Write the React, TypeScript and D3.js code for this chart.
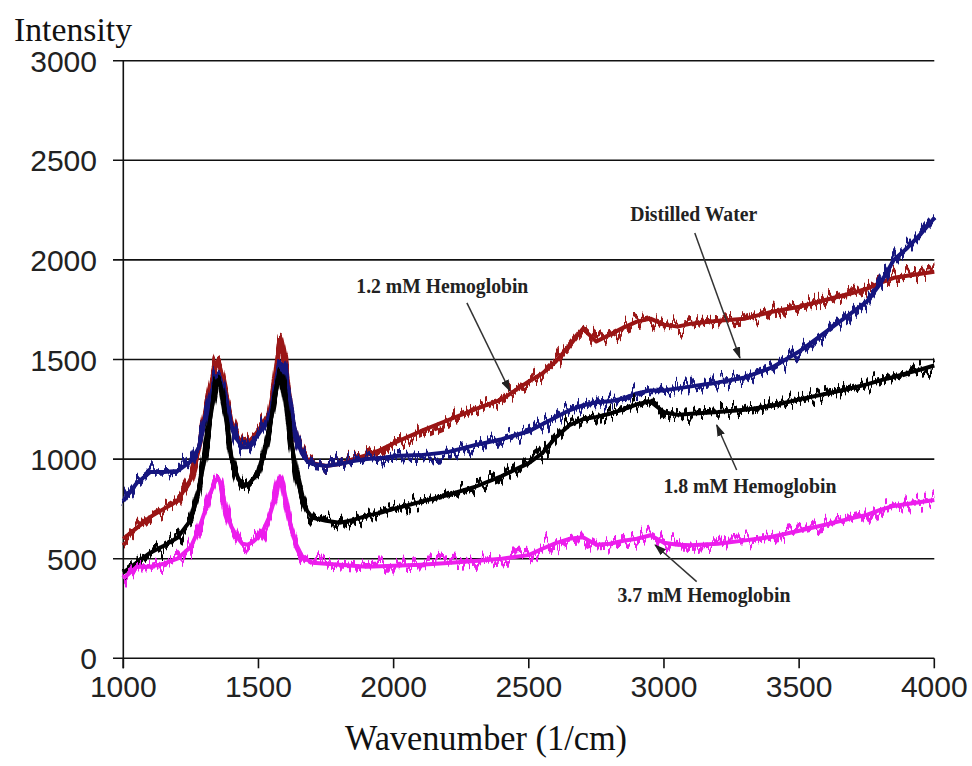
import React from 'react';
import * as d3 from 'd3';

// Raman spectra of hemoglobin solutions vs. distilled water
const wavenumbers = [
  1000, 1050, 1100, 1150, 1200, 1250, 1280, 1300, 1320, 1340, 1350, 1360, 1380, 1400,
  1420, 1440, 1460, 1480, 1500, 1520, 1540, 1560, 1570, 1580, 1590, 1600, 1620, 1640,
  1660, 1680, 1700, 1750, 1800, 1850, 1900, 1950, 2000, 2100, 2200, 2300, 2400, 2500,
  2550, 2600, 2650, 2700, 2750, 2800, 2850, 2900, 2950, 3000, 3050, 3100, 3200, 3300,
  3400, 3500, 3600, 3700, 3750, 3800, 3850, 3900, 3950, 4000,
];

const hemoglobin12 = [
  600, 655, 710, 750, 790, 900, 1050, 1200, 1340, 1460, 1490, 1450, 1320, 1190,
  1120, 1075, 1080, 1110, 1145, 1180, 1230, 1390, 1500, 1600, 1540, 1470, 1240, 1110,
  1040, 1000, 980, 965, 975, 1000, 1020, 1045, 1080, 1140, 1195, 1250, 1300, 1390,
  1430, 1490, 1570, 1655, 1590, 1625, 1660, 1690, 1705, 1675, 1665, 1680, 1695, 1705,
  1740, 1765, 1800, 1835, 1855, 1885, 1910, 1920, 1930, 1940,
];

const distilledWater = [
  790, 880, 935, 935, 940, 990, 1060, 1180, 1300, 1400, 1420, 1400, 1290, 1170,
  1100, 1060, 1060, 1090, 1125, 1165, 1210, 1330, 1420, 1480, 1470, 1420, 1250, 1110,
  1030, 990, 975, 965, 975, 990, 1000, 1005, 1015, 1020, 1035, 1070, 1100, 1140,
  1175, 1210, 1245, 1270, 1285, 1290, 1305, 1330, 1345, 1345, 1355, 1365, 1385, 1410,
  1460, 1540, 1640, 1740, 1790, 1880, 2000, 2060, 2130, 2210,
];

const hemoglobin18 = [
  430, 480, 530, 565, 605, 695, 850, 1000, 1190, 1360, 1395, 1370, 1200, 1010,
  920, 860, 870, 900, 930, 1020, 1150, 1300, 1380, 1430, 1390, 1310, 1100, 930,
  810, 740, 705, 690, 680, 695, 715, 730, 750, 785, 820, 860, 915, 980,
  1030, 1110, 1170, 1200, 1212, 1228, 1250, 1275, 1290, 1235, 1222, 1228, 1236, 1248,
  1268, 1300, 1328, 1358, 1375, 1395, 1412, 1432, 1450, 1470,
];

const hemoglobin37 = [
  400, 460, 460, 475, 500, 560, 650, 730, 820, 890, 905, 880, 740, 660,
  610, 575, 570, 585, 610, 650, 710, 800, 870, 910, 870, 790, 660, 570,
  515, 495, 480, 475, 470, 465, 460, 462, 465, 470, 478, 488, 500, 518,
  550, 578, 600, 608, 570, 575, 590, 600, 618, 580, 570, 568, 575, 592,
  610, 640, 672, 705, 720, 745, 765, 775, 785, 795,
];

const xTickValues = [1000, 1500, 2000, 2500, 3000, 3500, 4000];
const yTickValues = [0, 500, 1000, 1500, 2000, 2500, 3000];

const series = [
  { key: 'hb12', values: hemoglobin12, color: '#9a1414' },
  { key: 'water', values: distilledWater, color: '#15157f' },
  { key: 'hb18', values: hemoglobin18, color: '#000000' },
  { key: 'hb37', values: hemoglobin37, color: '#ec1fec' },
];

// Callouts: label baseline start, arrow tail and arrow tip, in data units
const callouts = [
  { text: '1.2 mM Hemoglobin', label: [1862, 1832], tail: [2271, 1784], tip: [2430, 1342], width: 172 },
  { text: 'Distilled Water', label: [2875, 2195], tail: [3114, 2135], tip: [3281, 1507], width: 127 },
  { text: '1.8 mM Hemoglobin', label: [2998, 831], tail: [3269, 945], tip: [3195, 1171], width: 173 },
  { text: '3.7 mM Hemoglobin', label: [2828, 284], tail: [3121, 385], tip: [2967, 569], width: 173 },
];

const W = 972;
const H = 766;
const plot = { left: 123.3, right: 934.3, top: 60.7, bottom: 658.3 };

export default function App() {
  const x = d3.scaleLinear().domain([1000, 4000]).range([plot.left, plot.right]);
  const y = d3.scaleLinear().domain([0, 3000]).range([plot.bottom, plot.top]);

  const lineGen = d3
    .line<number>()
    .x((_, i) => x(wavenumbers[i]))
    .y((d) => y(d));

  const sans = "'Liberation Sans', Arial, sans-serif";
  const serif = "'Liberation Serif', 'Times New Roman', serif";

  return (
    <svg
      width={W}
      height={H}
      viewBox={`0 0 ${W} ${H}`}
      style={{ position: 'absolute', left: 0, top: 0, background: '#fff' }}
    >
      <defs>
        {/* detector shot-noise texture along each trace */}
        <filter id="spectralNoise" x="-5%" y="-20%" width="110%" height="140%">
          <feTurbulence type="fractalNoise" baseFrequency="0.25 0.01" numOctaves="3" seed="7" result="turb" />
          <feColorMatrix
            in="turb"
            type="matrix"
            values="0 0 0 0 0.5  0 1 0 0 0  0 0 0 0 0  0 0 0 0 1"
            result="disp"
          />
          <feDisplacementMap in="SourceGraphic" in2="disp" scale="32" xChannelSelector="R" yChannelSelector="G" />
        </filter>
        <marker id="arrowHead" viewBox="0 0 12 8" refX="11" refY="4" markerWidth="12" markerHeight="8" markerUnits="userSpaceOnUse" orient="auto">
          <path d="M0,0 L12,4 L0,8 Z" fill="#222" />
        </marker>
      </defs>

      {/* horizontal gridlines with their left tick stubs */}
      {yTickValues.map((t) => (
        <line key={`g${t}`} x1={113} x2={plot.right} y1={y(t)} y2={y(t)} stroke="#111" strokeWidth={1.6} />
      ))}
      {/* y axis */}
      <line x1={plot.left} x2={plot.left} y1={plot.top} y2={plot.bottom + 10} stroke="#111" strokeWidth={1.6} />
      {/* x ticks */}
      {xTickValues.map((t) => (
        <line key={`xt${t}`} x1={x(t)} x2={x(t)} y1={plot.bottom} y2={plot.bottom + 10} stroke="#111" strokeWidth={1.6} />
      ))}

      {/* spectra: solid core plus noisy fringe */}
      {series.map((s) => {
        const d = lineGen(s.values) || '';
        return (
          <g key={s.key}>
            <path d={d} fill="none" stroke={s.color} strokeWidth={4} strokeLinejoin="round" />
            <path
              d={d}
              fill="none"
              stroke={s.color}
              strokeWidth={5.5}
              strokeLinejoin="round"
              filter="url(#spectralNoise)"
            />
          </g>
        );
      })}

      {/* y tick labels */}
      {yTickValues.map((t) => (
        <text
          key={`yl${t}`}
          x={97}
          y={y(t) + 11}
          textAnchor="end"
          fontFamily={sans}
          fontSize={30}
          fill="#222"
          textLength={String(t).length * 16.7}
          lengthAdjust="spacingAndGlyphs"
        >
          {t}
        </text>
      ))}
      {/* x tick labels */}
      {xTickValues.map((t) => (
        <text
          key={`xl${t}`}
          x={x(t)}
          y={697}
          textAnchor="middle"
          fontFamily={sans}
          fontSize={30}
          fill="#222"
          textLength={String(t).length * 16.7}
          lengthAdjust="spacingAndGlyphs"
        >
          {t}
        </text>
      ))}

      {/* axis titles */}
      <text x={14} y={41} fontFamily={serif} fontSize={34} fill="#111" textLength={118} lengthAdjust="spacingAndGlyphs">
        Intensity
      </text>
      <text x={345} y={750} fontFamily={serif} fontSize={36} fill="#111" textLength={282} lengthAdjust="spacingAndGlyphs">
        Wavenumber (1/cm)
      </text>

      {/* callouts */}
      {callouts.map((c) => (
        <g key={c.text}>
          <line
            x1={x(c.tail[0])}
            y1={y(c.tail[1])}
            x2={x(c.tip[0])}
            y2={y(c.tip[1])}
            stroke="#333"
            strokeWidth={1.5}
            markerEnd="url(#arrowHead)"
          />
          <text
            x={x(c.label[0])}
            y={y(c.label[1])}
            fontFamily={serif}
            fontSize={21}
            fontWeight="bold"
            fill="#222"
            textLength={c.width}
            lengthAdjust="spacingAndGlyphs"
          >
            {c.text}
          </text>
        </g>
      ))}
    </svg>
  );
}
